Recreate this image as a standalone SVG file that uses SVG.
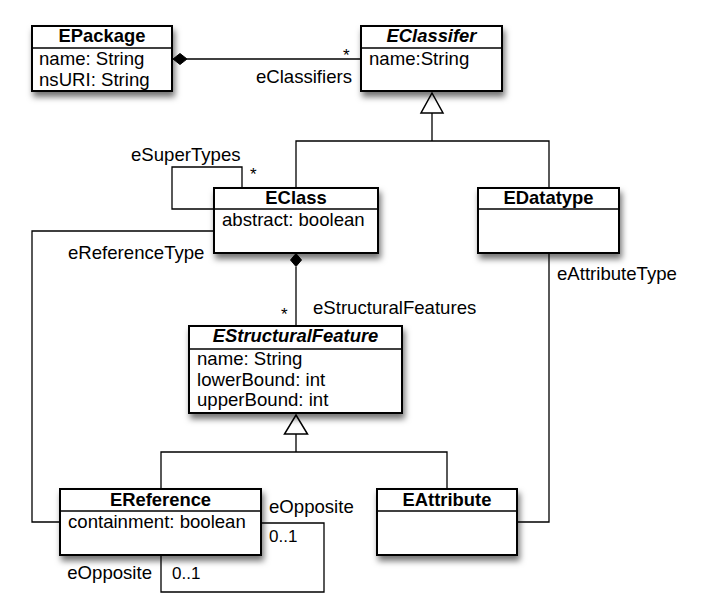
<svg xmlns="http://www.w3.org/2000/svg" width="701" height="607" viewBox="0 0 701 607">
<style>
text{font-family:"Liberation Sans",Arial,sans-serif;font-size:18.6px;fill:#000}
.h{font-weight:bold;text-anchor:middle;font-size:18.4px}
.hi{font-weight:bold;font-style:italic;text-anchor:middle;font-size:18.4px}
.m{font-size:17px}
.e{text-anchor:end}
.box{fill:#fff;stroke:#000;stroke-width:2}
.sep{stroke:#000;stroke-width:1.5}
.c{fill:none;stroke:#000;stroke-width:1.3}
.dia{fill:#000;stroke:#000;stroke-width:1}
.tri{fill:#fff;stroke:#000;stroke-width:1.5}
</style>
<defs>
<filter id="sh" x="-20%" y="-20%" width="150%" height="160%">
<feDropShadow dx="2" dy="5" stdDeviation="3" flood-color="#000" flood-opacity="0.55"/>
</filter>
</defs>
<g id="connectors">
<line class="c" x1="187" y1="59" x2="361" y2="59"/>
<polygon class="dia" points="173,59 180,53.5 187,59 180,64.5"/>
<text x="343" y="61" class="m">*</text>
<text x="352" y="83" class="e">eClassifiers</text>
<path class="c" d="M432,113 V141 M296,188 V141 H549 V188"/>
<polygon class="tri" points="432,93 443,113 421,113"/>
<path class="c" d="M214,209 H172 V167 H242 V188"/>
<text x="131" y="161">eSuperTypes</text>
<text x="250" y="180" class="m">*</text>
<path class="c" d="M214,231 H32 V522 H60"/>
<text x="68" y="259">eReferenceType</text>
<line class="c" x1="296" y1="267" x2="296" y2="326"/>
<polygon class="dia" points="296,253.5 301.5,260 296,266.5 290.5,260"/>
<text x="281" y="320" class="m">*</text>
<text x="313" y="314">eStructuralFeatures</text>
<path class="c" d="M296,434 V452 M161,489 V452 H447 V489"/>
<polygon class="tri" points="296,415 307.5,434 284.5,434"/>
<path class="c" d="M549,253 V522 H517"/>
<text x="557" y="280">eAttributeType</text>
<path class="c" d="M261,523 H324 V592 H161 V555"/>
<text x="269" y="513">eOpposite</text>
<text x="269" y="542" class="m">0..1</text>
<text x="152" y="579" class="e">eOpposite</text>
<text x="172" y="579" class="m">0..1</text>
</g>
<g id="EPackage">
<rect class="box" x="32" y="26" width="140" height="65" filter="url(#sh)"/>
<line class="sep" x1="32" y1="48" x2="172" y2="48"/>
<text x="102" y="42" class="h">EPackage</text>
<text x="39" y="65">name: String</text>
<text x="39" y="86">nsURI: String</text>
</g>
<g id="EClassifer">
<rect class="box" x="361" y="26" width="141" height="65" filter="url(#sh)"/>
<line class="sep" x1="361" y1="48" x2="502" y2="48"/>
<text x="431.5" y="42" class="hi">EClassifer</text>
<text x="369" y="65">name:String</text>
</g>
<g id="EClass">
<rect class="box" x="214" y="188" width="164" height="65" filter="url(#sh)"/>
<line class="sep" x1="214" y1="209" x2="378" y2="209"/>
<text x="296" y="204" class="h">EClass</text>
<text x="222" y="226">abstract: boolean</text>
</g>
<g id="EDatatype">
<rect class="box" x="478" y="188" width="141" height="65" filter="url(#sh)"/>
<line class="sep" x1="478" y1="209" x2="619" y2="209"/>
<text x="548.5" y="204" class="h">EDatatype</text>
</g>
<g id="EStructuralFeature">
<rect class="box" x="189" y="326" width="213" height="87" filter="url(#sh)"/>
<line class="sep" x1="189" y1="349" x2="402" y2="349"/>
<text x="295.5" y="342" class="hi">EStructuralFeature</text>
<text x="197" y="365">name: String</text>
<text x="197" y="386">lowerBound: int</text>
<text x="197" y="406">upperBound: int</text>
</g>
<g id="EReference">
<rect class="box" x="60" y="489" width="201" height="66" filter="url(#sh)"/>
<line class="sep" x1="60" y1="511" x2="261" y2="511"/>
<text x="160.5" y="506" class="h">EReference</text>
<text x="68" y="528">containment: boolean</text>
</g>
<g id="EAttribute">
<rect class="box" x="377" y="489" width="140" height="66" filter="url(#sh)"/>
<line class="sep" x1="377" y1="511" x2="517" y2="511"/>
<text x="447" y="506" class="h">EAttribute</text>
</g>
</svg>
